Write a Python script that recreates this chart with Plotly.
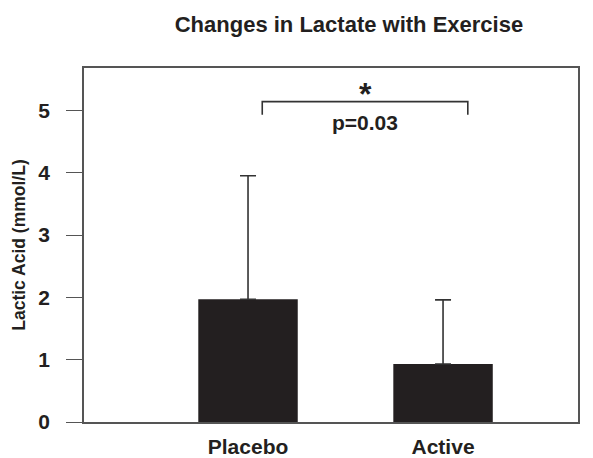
import plotly.graph_objects as go

# ---- data ----
categories = ["Placebo", "Active"]
lactate_mean = [1.97, 0.93]
lactate_sd = [1.98, 1.03]
y_ticks = [0, 1, 2, 3, 4, 5]
p_label = "p=0.03"
sig_label = "*"

# bracket for significance (data units)
bracket_y = 5.14
bracket_drop = 4.93
bracket_x0 = 0.073
bracket_x1 = 1.127
star_y = 5.26
p_y = 4.80

BAR_COLOR = "#231f20"
LINE_COLOR = "#555555"
FONT = "Liberation Sans, Arial, Helvetica, sans-serif"

fig = go.Figure()
fig.add_trace(go.Bar(
    x=categories,
    y=lactate_mean,
    width=0.51,
    marker=dict(color=BAR_COLOR, line=dict(width=0)),
    error_y=dict(type="data", symmetric=False, array=lactate_sd,
                 arrayminus=[0] * len(lactate_sd),
                 color="#333333", thickness=1.6, width=8),
    showlegend=False,
))

# significance bracket
fig.add_shape(type="path",
              path=f"M {bracket_x0},{bracket_drop} L {bracket_x0},{bracket_y} "
                   f"L {bracket_x1},{bracket_y} L {bracket_x1},{bracket_drop}",
              xref="x", yref="y", line=dict(color="#333333", width=1.6))
mid = (bracket_x0 + bracket_x1) / 2
fig.add_annotation(x=mid, y=star_y, xref="x", yref="y", text=f"<b>{sig_label}</b>",
                   showarrow=False, font=dict(size=32, color="#231f20", family=FONT),
                   yanchor="middle")
fig.add_annotation(x=mid, y=p_y, xref="x", yref="y", text=f"<b>{p_label}</b>",
                   showarrow=False, font=dict(size=21, color="#231f20", family=FONT),
                   yanchor="middle")

fig.update_layout(
    width=593, height=458,
    margin=dict(l=84, r=15, t=68, b=36),
    paper_bgcolor="white", plot_bgcolor="white",
    font=dict(family=FONT, color="#231f20"),
    title=dict(text="<b>Changes in Lactate with Exercise</b>",
               x=0.5885, xref="container", xanchor="center",
               y=0.9465, yref="container", yanchor="middle",
               font=dict(size=22, color="#231f20", family=FONT)),
    bargap=0.3,
)
fig.update_xaxes(
    type="category", range=[-0.841, 1.692], automargin=False,
    showline=True, mirror=True, linecolor=LINE_COLOR, linewidth=1.5,
    ticks="", showgrid=False, zeroline=False,
    tickfont=dict(size=21, color="#231f20", family=FONT),
    tickprefix="<b>", ticksuffix="</b>",
    ticklabelstandoff=5,
)
fig.update_yaxes(
    range=[0, 5.68], tickvals=y_ticks, ticktext=[f"<b>{v}</b>" for v in y_ticks],
    automargin=False,
    showline=True, mirror=True, linecolor=LINE_COLOR, linewidth=1.5,
    ticks="outside", ticklen=16, tickwidth=1.2, tickcolor=LINE_COLOR,
    showgrid=False, zeroline=False,
    tickfont=dict(size=21, color="#231f20", family=FONT),
    ticklabelstandoff=12,
    title=dict(text="<b>Lactic Acid (mmol/L)</b>", standoff=8,
               font=dict(size=17.5, color="#231f20", family=FONT)),
)

fig.write_html("out.html",
               config={"displayModeBar": False},
               post_script="document.body.style.margin='0px';document.body.style.padding='0px';")
